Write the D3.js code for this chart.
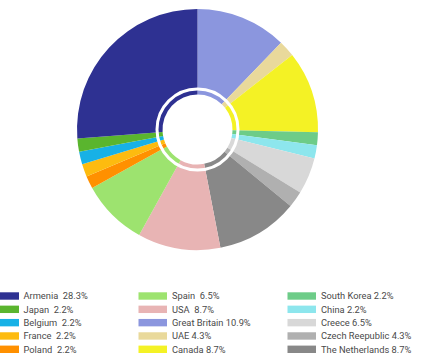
<!DOCTYPE html>
<html>
<head>
<meta charset="utf-8">
<script src="https://cdn.jsdelivr.net/npm/d3@7"></script>
<style>
  body { margin: 0; background: #fff; }
  svg { display: block; }
  .legend text { font-family: Roboto, "Noto Sans", sans-serif; font-size: 9.3px; fill: #4a4a4a; white-space: pre; }
</style>
</head>
<body>
<div id="chart"></div>
<script>
// slices, clockwise from 12 o'clock (shares)
const sliceNames = ["Great Britain", "UAE", "Canada", "South Korea", "China", "Greece",
  "Czech Republic", "The Netherlands", "USA", "Spain", "Poland", "France", "Belgium", "Japan", "Armenia"];
const sliceShares = [12.2, 2.2, 11.0, 1.7, 1.8, 4.9, 2.2, 11.0, 11.1, 8.9, 1.7, 1.7, 1.7, 1.8, 26.2];
const sliceColors = ["#8b96de", "#e9d99b", "#f4f225", "#6dcc88", "#8de6ed", "#d8d8d8",
  "#b0b0b0", "#888888", "#e8b4b4", "#9de36f", "#ff9000", "#fdbb0f", "#17b1e6", "#5ab52e", "#2e3192"];

// legend, column by column as printed
const legendNames = ["Armenia", "Japan", "Belgium", "France", "Poland",
  "Spain", "USA", "Great Britain", "UAE", "Canada",
  "South Korea", "China", "Greece", "Czech Republic", "The Netherlands"];
const legendLabels = ["Armenia  28.3%", "Japan  2.2%", "Belgium  2.2%", "France  2.2%", "Poland  2.2%",
  "Spain  6.5%", "USA  8.7%", "Great Britain 10.9%", "UAE 4.3%", "Canada 8.7%",
  "South Korea 2.2%", "China 2.2%", "Creece 6.5%", "Czech Reepublic 4.3%", "The Netherlands 8.7%"];

const width = 424, height = 363;
const cx = 197.5, cy = 129.5, rOuter = 120.5, rInner = 35;

const color = d3.scaleOrdinal().domain(sliceNames).range(sliceColors);

const svg = d3.select("#chart").append("svg")
    .attr("width", width)
    .attr("height", height)
    .style("background", "white");

const pie = d3.pie().sort(null).value(d => d.v);
const arc = d3.arc().innerRadius(rInner).outerRadius(rOuter);
const data = sliceNames.map((n, i) => ({name: n, v: sliceShares[i]}));

const g = svg.append("g").attr("transform", "translate(" + cx + "," + cy + ")");
g.selectAll("path")
    .data(pie(data))
    .enter()
    .append("path")
    .attr("d", arc)
    .attr("fill", d => color(d.data.name));

// white ring cutting the inner band off
g.append("circle")
    .attr("r", 40.5)
    .attr("fill", "none")
    .attr("stroke", "white")
    .attr("stroke-width", 3);

// legend
const colX = [-10, 138.5, 287.5];
const rowY = d3.scaleLinear().domain([0, 4]).range([296, 349.3]);
const lg = svg.append("g").attr("class", "legend");
const item = lg.selectAll("g")
    .data(legendNames)
    .enter()
    .append("g")
    .attr("transform", (d, i) => "translate(" + colX[Math.floor(i / 5)] + "," + rowY(i % 5) + ")");

item.append("rect")
    .attr("y", -3.7)
    .attr("width", (d, i) => i < 5 ? 29 : 28.5)
    .attr("height", 7.4)
    .attr("fill", d => color(d));

item.append("text")
    .attr("x", 33.5)
    .attr("dy", "0.35em")
    .text((d, i) => legendLabels[i]);
</script>
</body>
</html>
